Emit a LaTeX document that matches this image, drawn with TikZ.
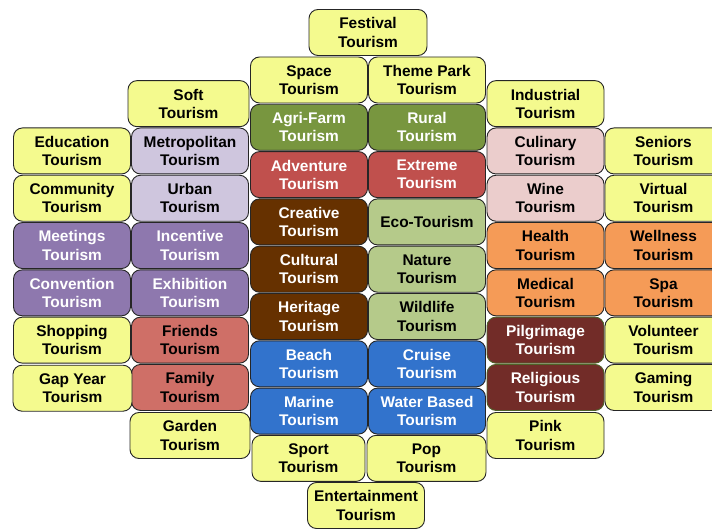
\documentclass[tikz,border=0pt]{standalone}
\usepackage{fontspec}
\setmainfont{Liberation Sans}
\definecolor{yel}{HTML}{F4FA8E}
\definecolor{lav}{HTML}{CFC6DE}
\definecolor{pur}{HTML}{8E78AE}
\definecolor{olv}{HTML}{78963F}
\definecolor{red}{HTML}{C0504D}
\definecolor{brn}{HTML}{663100}
\definecolor{lgr}{HTML}{B5CA8A}
\definecolor{blu}{HTML}{3273CC}
\definecolor{sal}{HTML}{CF6F67}
\definecolor{pnk}{HTML}{EBCDCC}
\definecolor{org}{HTML}{F59B57}
\definecolor{mar}{HTML}{722C28}
\definecolor{marb}{HTML}{4F6228}
\begin{document}
\begin{tikzpicture}[x=1bp,y=-1bp,
  tb/.style={draw=black!85, line width=0.9bp, rounded corners=9bp,
    minimum width=117bp, minimum height=46bp, inner sep=0pt, align=center,
    font=\bfseries\fontsize{15.5}{18.3}\selectfont},
  wt/.style={text=white}]
\useasboundingbox (0,0) rectangle (712,529);
\clip (0,0) rectangle (712,529);
% top and bottom
\node[tb, fill=yel, minimum width=118bp] (festival) at (368,32.5) {Festival\\Tourism};
\node[tb, fill=yel] (entertainment) at (366,505.5) {Entertainment\\Tourism};
% column 3
\node[tb, fill=yel] (space) at (309,80) {Space\\Tourism};
\node[tb, fill=olv, wt] (agri) at (309,127.3) {Agri-Farm\\Tourism};
\node[tb, fill=red, wt] (adventure) at (309,174.6) {Adventure\\Tourism};
\node[tb, fill=brn, wt] (creative) at (309,221.9) {Creative\\Tourism};
\node[tb, fill=brn, wt] (cultural) at (309,269.2) {Cultural\\Tourism};
\node[tb, fill=brn, wt] (heritage) at (309,316.5) {Heritage\\Tourism};
\node[tb, fill=blu, wt] (beach) at (309,363.8) {Beach\\Tourism};
\node[tb, fill=blu, wt] (marine) at (309,411.1) {Marine\\Tourism};
\node[tb, fill=yel, minimum width=113bp] (sport) at (308.5,458.4) {Sport\\Tourism};
% column 4
\node[tb, fill=yel] (themepark) at (427,80) {Theme Park\\Tourism};
\node[tb, fill=olv, wt] (rural) at (427,127.3) {Rural\\Tourism};
\node[tb, fill=red, wt] (extreme) at (427,174.6) {Extreme\\Tourism};
\node[tb, fill=lgr] (eco) at (427,221.9) {Eco-Tourism};
\node[tb, fill=lgr] (nature) at (427,269.2) {Nature\\Tourism};
\node[tb, fill=lgr] (wildlife) at (427,316.5) {Wildlife\\Tourism};
\node[tb, fill=blu, wt] (cruise) at (427,363.8) {Cruise\\Tourism};
\node[tb, fill=blu, wt] (water) at (427,411.1) {Water Based\\Tourism};
\node[tb, fill=yel, minimum width=119bp] (pop) at (426.5,458.4) {Pop\\Tourism};
% column 2
\node[tb, fill=yel, minimum width=121bp] (soft) at (188.5,103.65) {Soft\\Tourism};
\node[tb, fill=lav] (metro) at (190,150.95) {Metropolitan\\Tourism};
\node[tb, fill=lav] (urban) at (190,198.25) {Urban\\Tourism};
\node[tb, fill=pur, wt] (incentive) at (190,245.55) {Incentive\\Tourism};
\node[tb, fill=pur, wt] (exhibition) at (190,292.85) {Exhibition\\Tourism};
\node[tb, fill=sal] (friends) at (190,340.15) {Friends\\Tourism};
\node[tb, fill=sal] (family) at (190,387.45) {Family\\Tourism};
\node[tb, fill=yel, minimum width=120bp] (garden) at (190,435.5) {Garden\\Tourism};
% column 1
\node[tb, fill=yel] (education) at (72,150.95) {Education\\Tourism};
\node[tb, fill=yel] (community) at (72,198.25) {Community\\Tourism};
\node[tb, fill=pur, wt] (meetings) at (72,245.55) {Meetings\\Tourism};
\node[tb, fill=pur, wt] (convention) at (72,292.85) {Convention\\Tourism};
\node[tb, fill=yel] (shopping) at (72,340.15) {Shopping\\Tourism};
\node[tb, fill=yel, minimum width=119bp] (gapyear) at (72.5,388.2) {Gap Year\\Tourism};
% column 5
\node[tb, fill=yel] (industrial) at (545.5,103.65) {Industrial\\Tourism};
\node[tb, fill=pnk] (culinary) at (545.5,150.95) {Culinary\\Tourism};
\node[tb, fill=pnk] (wine) at (545.5,198.25) {Wine\\Tourism};
\node[tb, fill=org] (health) at (545.5,245.55) {Health\\Tourism};
\node[tb, fill=org] (medical) at (545.5,292.85) {Medical\\Tourism};
\node[tb, fill=mar, draw=marb, wt] (pilgrimage) at (545.5,340.15) {Pilgrimage\\Tourism};
\node[tb, fill=mar, draw=marb, wt] (religious) at (545.5,387.45) {Religious\\Tourism};
\node[tb, fill=yel] (pink) at (545.5,435.5) {Pink\\Tourism};
% column 6
\node[tb, fill=yel] (seniors) at (663.5,150.95) {Seniors\\Tourism};
\node[tb, fill=yel] (virtual) at (663.5,198.25) {Virtual\\Tourism};
\node[tb, fill=org] (wellness) at (663.5,245.55) {Wellness\\Tourism};
\node[tb, fill=org] (spa) at (663.5,292.85) {Spa\\Tourism};
\node[tb, fill=yel] (volunteer) at (663.5,340.15) {Volunteer\\Tourism};
\node[tb, fill=yel] (gaming) at (663.5,387.45) {Gaming\\Tourism};
\end{tikzpicture}
\end{document}
